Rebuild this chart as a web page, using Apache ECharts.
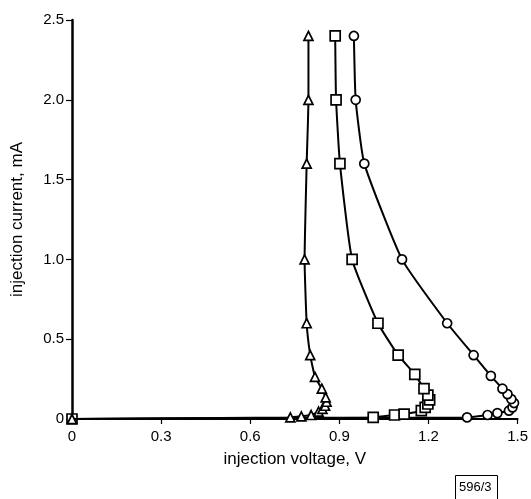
<!DOCTYPE html>
<html><head><meta charset="utf-8">
<script src="https://cdn.jsdelivr.net/npm/echarts@6/dist/echarts.min.js"></script>
<style>html,body{margin:0;padding:0;background:#fff}#c{width:531px;height:499px}</style>
</head><body><div id="c"></div>
<script>
var xTicks = [0, 0.3, 0.6, 0.9, 1.2, 1.5];
var yTicks = [0, 0.5, 1.0, 1.5, 2.0, 2.5];
var triV = [0, 0.735, 0.772, 0.805, 0.830, 0.843, 0.852, 0.857, 0.854, 0.841, 0.818, 0.802, 0.790, 0.783, 0.790, 0.796, 0.796];
var triI = [0, 0.01, 0.017, 0.025, 0.046, 0.063, 0.083, 0.108, 0.135, 0.19, 0.264, 0.40, 0.6, 1.0, 1.6, 2.0, 2.4];
var sqV = [0, 1.014, 1.086, 1.118, 1.176, 1.189, 1.198, 1.204, 1.198, 1.185, 1.154, 1.098, 1.030, 0.943, 0.902, 0.889, 0.886];
var sqI = [0, 0.01, 0.025, 0.031, 0.052, 0.073, 0.094, 0.12, 0.15, 0.19, 0.28, 0.40, 0.6, 1.0, 1.6, 2.0, 2.4];
var cirV = [0, 1.330, 1.399, 1.432, 1.471, 1.483, 1.488, 1.479, 1.466, 1.449, 1.410, 1.352, 1.263, 1.111, 0.984, 0.955, 0.949];
var cirI = [0, 0.01, 0.025, 0.037, 0.052, 0.073, 0.1, 0.125, 0.156, 0.19, 0.27, 0.40, 0.6, 1.0, 1.6, 2.0, 2.4];

function pairs(xs, ys, hideFirst) {
  return xs.map(function (x, i) {
    var item = { value: [x, ys[i]] };
    if (hideFirst && i === 0) item.symbol = 'none';
    return item;
  });
}
function fmt(v) {
  if (v === 0) return '0';
  return v.toFixed(1);
}
function mk(name, symbol, size, data, z) {
  return {
    name: name, type: 'line', data: data, symbol: symbol, symbolSize: size,
    smooth: 0.15, z: z,
    lineStyle: { color: '#000', width: 2 },
    itemStyle: { color: '#fff', borderColor: '#000', borderWidth: 1.7 },
    animation: false
  };
}
var chart = echarts.init(document.getElementById('c'), null, { renderer: 'canvas' });
var font = '"Liberation Sans", Arial, sans-serif';
chart.setOption({
  backgroundColor: '#fff',
  animation: false,
  grid: { left: 72, right: 11, top: 20, bottom: 80 },
  xAxis: {
    type: 'value', min: 0, max: 1.5, interval: 0.3,
    name: 'injection voltage, V', nameLocation: 'middle', nameGap: 32,
    nameTextStyle: { color: '#000', fontSize: 17, fontFamily: font },
    axisLine: { show: true, onZero: false, lineStyle: { color: '#000', width: 2 } },
    axisTick: { show: true, length: 5, lineStyle: { color: '#000', width: 1.2 } },
    axisLabel: { color: '#000', fontSize: 15, fontFamily: font, margin: 10,
      formatter: function (v) { return fmt(v); } },
    splitLine: { show: false }
  },
  yAxis: {
    type: 'value', min: 0, max: 2.5, interval: 0.5,
    name: 'injection current, mA', nameLocation: 'middle', nameGap: 46,
    nameTextStyle: { color: '#000', fontSize: 17, fontFamily: font },
    axisLine: { show: true, onZero: false, lineStyle: { color: '#000', width: 2.5 } },
    axisTick: { show: true, length: 6, lineStyle: { color: '#000', width: 1.2 } },
    axisLabel: { color: '#000', fontSize: 15, fontFamily: font, margin: 8,
      formatter: function (v) { return fmt(v); } },
    splitLine: { show: false }
  },
  series: [
    mk('circles', 'circle', 9, pairs(cirV, cirI, true), 2),
    mk('squares', 'rect', 10, pairs(sqV, sqI, false), 3),
    mk('triangles', 'triangle', 9, pairs(triV, triI, false), 4)
  ],
  graphic: [
    { type: 'rect', left: 455, top: 475, shape: { width: 42, height: 24 },
      style: { fill: '#fff', stroke: '#000', lineWidth: 1 } },
    { type: 'text', left: 459, top: 481,
      style: { text: '596/3', fill: '#000', font: '13px "Liberation Sans", Arial, sans-serif' } }
  ]
});
</script></body></html>
